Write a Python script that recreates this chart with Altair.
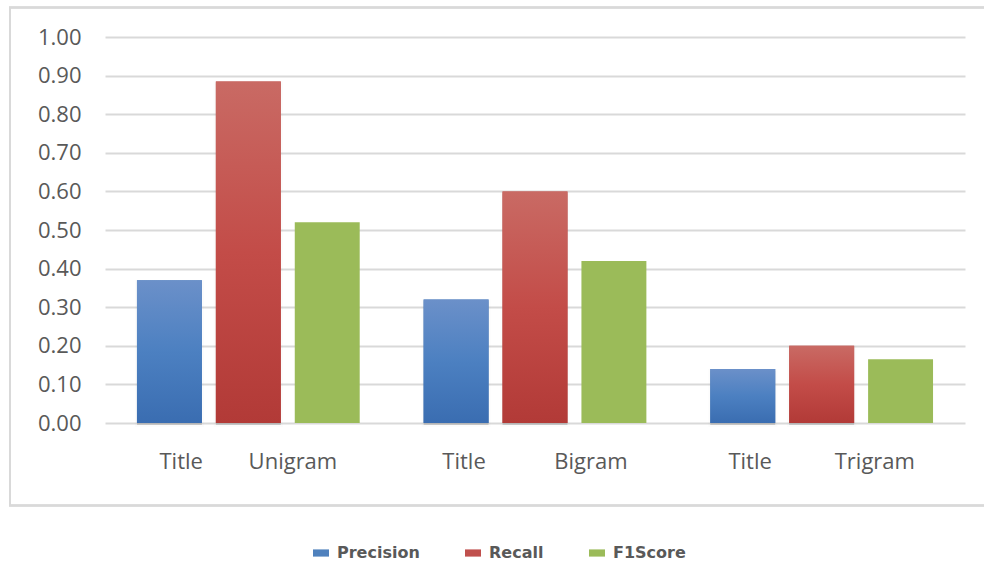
import altair as alt
import pandas as pd

# Category groups and series
groups = ["Unigram", "Bigram", "Trigram"]
series = ["Precision", "Recall", "F1Score"]

precision = [0.37, 0.32, 0.14]
recall = [0.885, 0.60, 0.20]
f1score = [0.52, 0.42, 0.165]

colors = ["#4F81BD", "#C0504D", "#9BBB59"]
y_ticks = [0.0, 0.1, 0.2, 0.3, 0.4, 0.5, 0.6, 0.7, 0.8, 0.9, 1.0]

rows = []
for name, vals in zip(series, [precision, recall, f1score]):
    for g, v in zip(groups, vals):
        rows.append({"group": g, "series": name, "value": v})
df = pd.DataFrame(rows)

FONT = "Open Sans"
GRAY = "#595959"
NB = "\u00a0"

# two-part category labels ("Title" + n-gram kind), spaced as in the layout
label_gaps = {"Unigram": 8, "Bigram": 12, "Trigram": 11}
label_expr = " : ".join(
    f"datum.value == '{g}' ? 'Title{NB * n}{g}'" for g, n in label_gaps.items()
) + " : datum.value"

x_enc = alt.X(
    "group:N",
    sort=groups,
    title=None,
    scale=alt.Scale(paddingInner=0, paddingOuter=0),
    axis=alt.Axis(
        labelExpr=label_expr,
        labelAngle=0,
        labelFont=FONT,
        labelFontSize=22,
        labelColor=GRAY,
        labelPadding=28,
        labelLimit=400,
        ticks=False,
        domain=False,
        grid=False,
    ),
)
xoff_enc = alt.XOffset(
    "series:N",
    sort=series,
    scale=alt.Scale(domain=series, paddingInner=0.177, paddingOuter=0.405),
)
y_enc = alt.Y(
    "value:Q",
    title=None,
    scale=alt.Scale(domain=[0, 1], nice=False),
    axis=alt.Axis(
        values=y_ticks,
        format=".2f",
        labelFont=FONT,
        labelFontSize=22,
        labelColor=GRAY,
        labelPadding=24,
        ticks=False,
        domain=False,
        gridColor="#D9D9D9",
        gridWidth=2,
    ),
)

base = alt.Chart(df).encode(x=x_enc, xOffset=xoff_enc, y=y_enc)

# outer frame around plot and category labels
frame = alt.Chart(df).mark_rect(
    fill=None, stroke="#D9D9D9", strokeWidth=1.5
).encode(
    x=alt.value(-95), x2=alt.value(890), y=alt.value(-29.5), y2=alt.value(468.5)
)

# soft shadow behind the gradient bars
shadow = base.transform_filter(
    alt.FieldOneOfPredicate(field="series", oneOf=["Precision", "Recall"])
).mark_bar(
    color="#000000", opacity=0.16, xOffset=1.5, yOffset=2,
    stroke="#000000", strokeOpacity=0.07, strokeWidth=4,
)

bars = base.mark_bar().encode(
    color=alt.Color(
        "series:N",
        sort=series,
        scale=alt.Scale(domain=series, range=colors),
        legend=alt.Legend(
            title=None,
            orient="none",
            direction="horizontal",
            legendX=208,
            legendY=508,
            symbolType="M-1,-0.45H1V0.45H-1Z",
            symbolSize=256,
            symbolStrokeWidth=0,
            symbolOpacity=1,
            labelFont="DejaVu Sans",
            labelFontSize=16,
            labelFontWeight=600,
            labelColor=GRAY,
            labelOffset=8,
            columnPadding=45,
        ),
    )
)


def gradient(top, mid, bottom):
    return alt.Gradient(
        gradient="linear",
        stops=[
            alt.GradientStop(color=top, offset=0),
            alt.GradientStop(color=mid, offset=0.5),
            alt.GradientStop(color=bottom, offset=1),
        ],
        x1=0, x2=0, y1=0, y2=1,
    )


blue_bars = base.transform_filter(alt.datum.series == "Precision").mark_bar(
    color=gradient("#6B90C9", "#4C80C1", "#3A6DB1")
)
red_bars = base.transform_filter(alt.datum.series == "Recall").mark_bar(
    color=gradient("#C96A64", "#C34C48", "#B23A37")
)

chart = alt.layer(frame, shadow, bars, blue_bars, red_bars).properties(
    width=860,
    height=386,
    autosize=alt.AutoSizeParams(type="none"),
    padding={"left": 105, "top": 37, "right": 19, "bottom": 138},
    background="white",
).configure_view(stroke=None)

chart.save("out.html", embed_options={"renderer": "svg", "actions": False})
